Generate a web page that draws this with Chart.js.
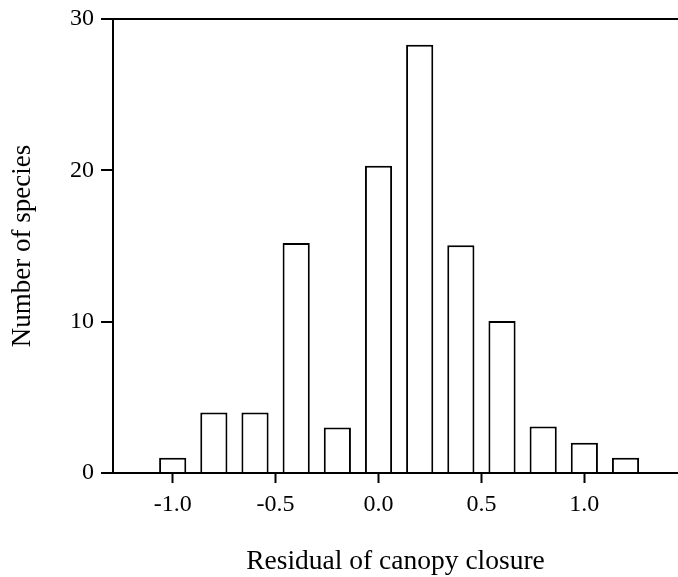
<!DOCTYPE html>
<html>
<head>
<meta charset="utf-8">
<script src="https://cdn.jsdelivr.net/npm/chart.js@4"></script>
<style>
  html, body { margin: 0; padding: 0; background: #fff; }
  #wrap { width: 678px; height: 577px; }
</style>
</head>
<body>
<div id="wrap"><canvas id="histChart"></canvas></div>
<script>
// histogram data, bin centres and counts
var binCentres = [-1.0, -0.8, -0.6, -0.4, -0.2, 0.0, 0.2, 0.4, 0.6, 0.8, 1.0, 1.2];
var speciesCounts = [1, 4, 4, 15.2, 3, 20.3, 28.3, 15.05, 10.05, 3.07, 2.0, 1];
var xTickValues = [-1.0, -0.5, 0.0, 0.5, 1.0];
var yTickValues = [0, 10, 20, 30];

var serif = "'Liberation Serif', 'Times New Roman', serif";

var points = binCentres.map(function (c, i) {
    return { x: c, y: speciesCounts[i] };
});

var ctx = document.getElementById('histChart').getContext('2d');
var histChart = new Chart(ctx, {
    type: 'bar',
    data: {
        datasets: [{
            label: 'Number of species',
            data: points,
            backgroundColor: '#fff',
            borderColor: '#000',
            borderWidth: 2,
            barPercentage: 0.66,
            categoryPercentage: 1
        }]
    },
    options: {
        responsive: true,
        maintainAspectRatio: false,
        animation: false,
        layout: { padding: { top: 17, right: 0, bottom: 0, left: 0 } },
        plugins: {
            legend: { display: false },
            tooltip: { enabled: false }
        },
        scales: {
            x: {
                type: 'linear',
                offset: false,
                min: -1.29,
                max: 1.455,
                afterBuildTicks: function (scale) {
                    scale.ticks = xTickValues.map(function (v) { return { value: v }; });
                },
                afterFit: function (scale) { scale.height = 104; },
                grid: { offset: false, drawOnChartArea: false, drawTicks: true, tickLength: 10, tickColor: '#000', tickWidth: 2 },
                border: { display: true, color: '#000', width: 2 },
                ticks: {
                    color: '#000',
                    padding: 7,
                    maxRotation: 0,
                    font: { family: serif, size: 24 },
                    callback: function (v) { return Number(v).toFixed(1); }
                },
                title: {
                    display: true,
                    text: 'Residual of canopy closure',
                    color: '#000',
                    font: { family: serif, size: 27.5, lineHeight: 1.1 },
                    padding: { top: 0, bottom: 0 }
                }
            },
            y: {
                min: 0,
                max: 30,
                afterBuildTicks: function (scale) {
                    scale.ticks = yTickValues.map(function (v) { return { value: v }; });
                },
                afterFit: function (scale) { scale.width = 113; },
                grid: {
                    drawTicks: true,
                    tickLength: 12,
                    tickColor: '#000',
                    tickWidth: 2,
                    lineWidth: 2,
                    color: function (c) { return c.tick && c.tick.value === 30 ? '#000' : 'rgba(0,0,0,0)'; }
                },
                border: { display: true, color: '#000', width: 2 },
                ticks: {
                    color: '#000',
                    padding: 7,
                    font: { family: serif, size: 24, lineHeight: 1 }
                },
                title: {
                    display: true,
                    text: 'Number of species',
                    color: '#000',
                    font: { family: serif, size: 27, lineHeight: 1.1 },
                    padding: { top: 8, bottom: 0 }
                }
            }
        }
    }
});
</script>
</body>
</html>
